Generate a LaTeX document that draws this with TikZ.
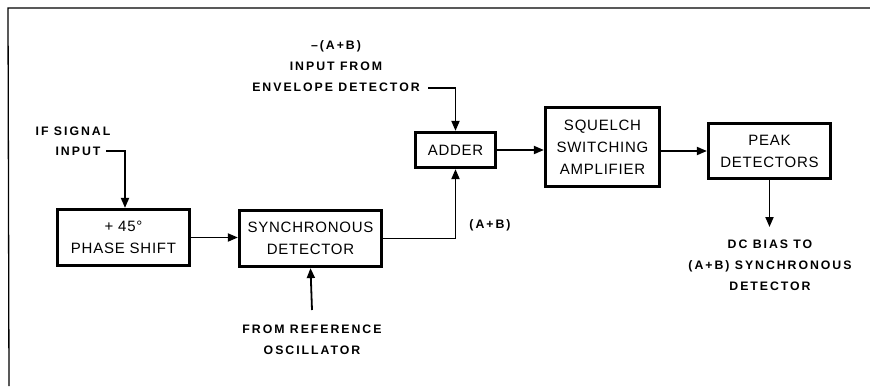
\documentclass[tikz,border=0pt]{standalone}
\usepackage{fontspec}
\setmainfont{Liberation Sans}
\newfontfamily\lblfont{Liberation Sans}[LetterSpace=16]
\newfontfamily\boxfont{Liberation Sans}[LetterSpace=5]
\usetikzlibrary{arrows.meta}
\begin{document}
\begin{tikzpicture}[x=1pt,y=-1pt,
  blk/.style={draw, line width=3.2pt, align=center, inner sep=0pt,
    font=\boxfont\fontsize{15}{22}\selectfont},
  lbl/.style={align=center, inner sep=0pt,
    font=\lblfont\bfseries\fontsize{12.3}{21}\selectfont},
  conn/.style={line width=1.8pt, -{Triangle[length=10pt,width=8pt]}},
  frame/.style={line width=1.3pt}]
\useasboundingbox (0,0) rectangle (870,386);
% frame (top and left edges only)
\coordinate (f1) at (870,8);
\coordinate (f2) at (8,8);
\coordinate (f3) at (9,386);
\draw[frame] (f1) -- (f2) -- (f3);
% blocks
\node[blk, minimum width=132pt, minimum height=56pt] (ps) at (123.5,237.5) {+ 45°\\PHASE SHIFT};
\node[blk, minimum width=142pt, minimum height=56pt] (sd) at (310.5,238.5) {SYNCHRONOUS\\DETECTOR};
\node[blk, minimum width=80pt, minimum height=35pt] (ad) at (455.5,150) {ADDER};
\node[blk, minimum width=114pt, minimum height=79pt] (sq) at (602.5,147) {SQUELCH\\SWITCHING\\AMPLIFIER};
\node[blk, minimum width=122pt, minimum height=55pt] (pk) at (769.5,151) {PEAK\\DETECTORS};
% labels
\node[lbl] (if1) at (73,131) {IF SIGNAL};
\node[lbl] (if2) at (78,151) {INPUT};
\node[lbl] (env) at (336,66) {–(A+B)\\INPUT FROM\\ENVELOPE DETECTOR};
\node[lbl] (ab) at (490,225) {(A+B)};
\node[lbl] (ref) at (312,340) {FROM REFERENCE\\OSCILLATOR};
\node[lbl] (dc) at (770,265) {DC BIAS TO\\(A+B) SYNCHRONOUS\\DETECTOR};
% connector end points
\coordinate (ifs) at (106,151);
\coordinate (envs) at (428,88);
\coordinate (refs) at (312,310);
\coordinate (dce) at (769.5,227);
% connectors
\draw[conn] (ifs) -| (ps.north -| 125,0);
\draw[conn] (envs) -| (ad.north);
\draw[conn] (ps.east) -- (ps.east -| sd.west);
\draw[conn] (sd.east) -| (ad.south);
\draw[conn] (ad.east) -- (ad.east -| sq.west);
\draw[conn] (sq.east |- pk.west) -- (pk.west);
\draw[conn] (pk.south) -- (dce);
\draw[conn] (refs) -- (sd.south);
\end{tikzpicture}
\end{document}
